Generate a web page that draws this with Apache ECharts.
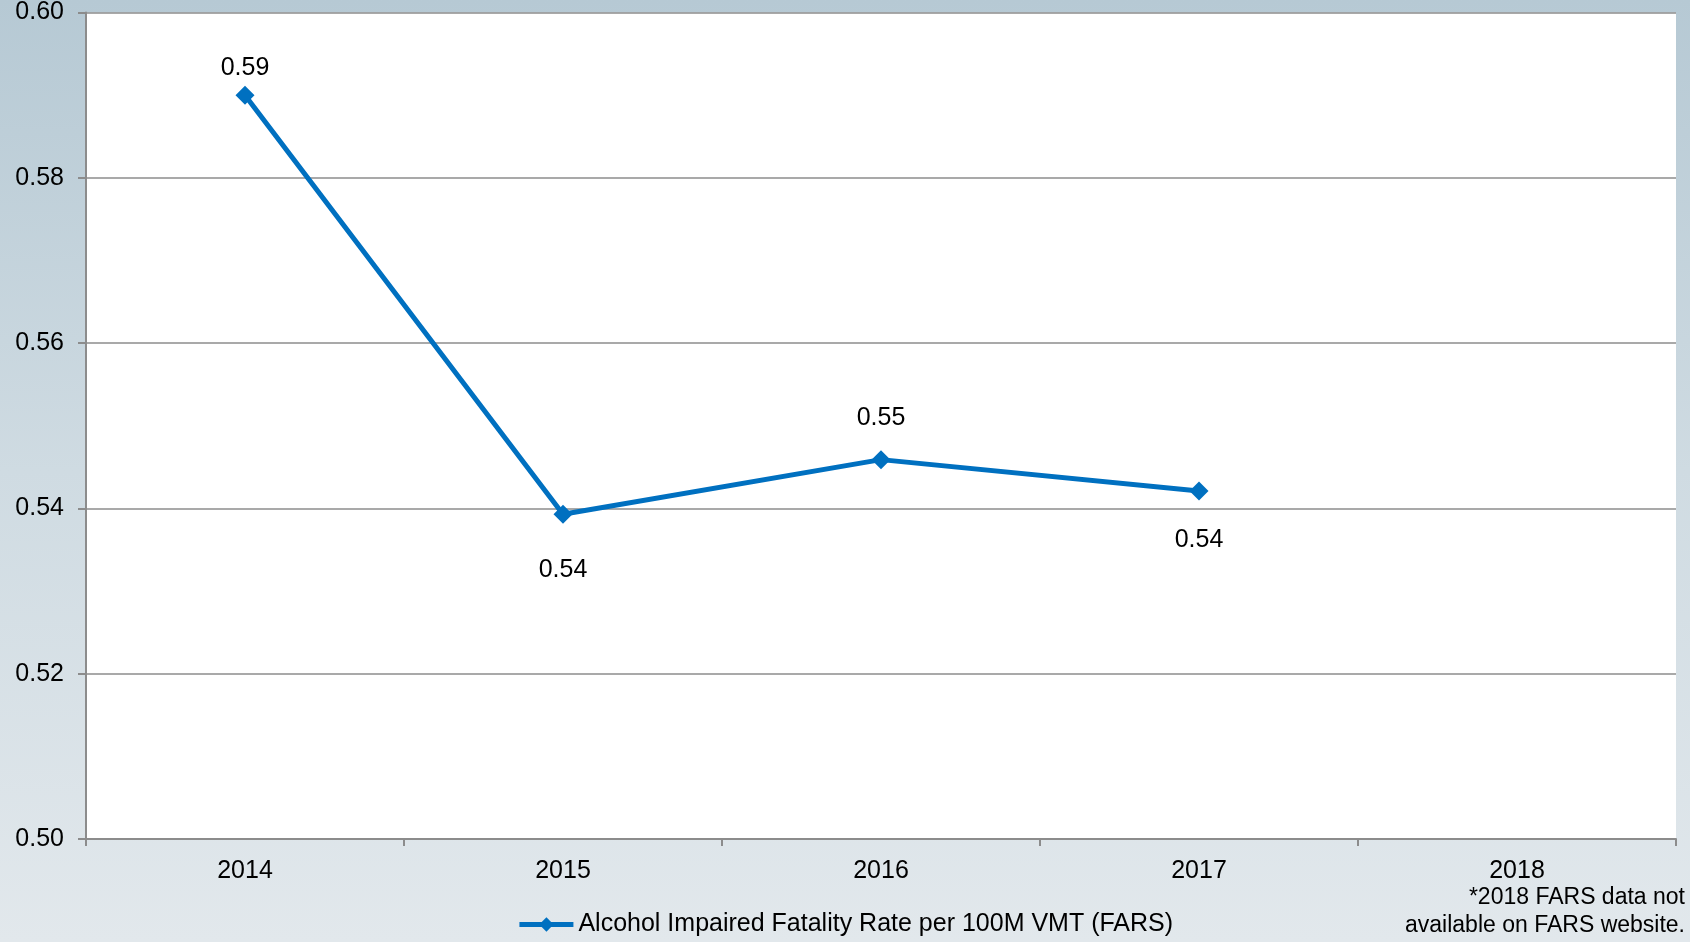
<!DOCTYPE html>
<html>
<head>
<meta charset="utf-8">
<style>
    html, body { margin: 0; padding: 0; }
    body { background: linear-gradient(to bottom, #b6c9d4 0%, #cfdbe2 50%, #e2e8ec 100%); }
    #chart { width: 1690px; height: 942px; }
</style>
<script src="https://cdn.jsdelivr.net/npm/echarts@6/dist/echarts.min.js"></script>
</head>
<body>
<div id="chart"></div>
<script>
    // 年份
    var _years = ['2014', '2015', '2016', '2017', '2018'];
    // 每亿英里酒驾死亡率 (2018 无数据)
    var _rate = [0.59, 0.5393, 0.5459, 0.5421, null];
    // 标签在点的上方还是下方, 以及距离
    var _labelPos = ['top', 'bottom', 'top', 'bottom', 'top'];
    var _labelDist = [5, 34, 20, 27, 0];
    var _yTicks = { min: 0.5, max: 0.6, interval: 0.02 };

    var chartDom = document.getElementById('chart');
    var myChart = echarts.init(chartDom);
    var fontFamily = '"Liberation Sans", Arial, sans-serif';

    var option = {
        backgroundColor: 'transparent',
        textStyle: { fontFamily: fontFamily },
        grid: {
            left: 86,
            right: 14,
            top: 11,
            bottom: 103,
            show: true,
            backgroundColor: '#ffffff',
            borderWidth: 0
        },
        xAxis: {
            type: 'category',
            data: _years,
            boundaryGap: true,
            axisLine: { lineStyle: { color: '#8c8c8c', width: 2 } },
            axisTick: { show: true, length: 7, lineStyle: { color: '#8c8c8c', width: 2 } },
            axisLabel: { color: '#000', fontSize: 25, margin: 20, fontFamily: fontFamily },
            splitLine: { show: false }
        },
        yAxis: {
            type: 'value',
            min: _yTicks.min,
            max: _yTicks.max,
            interval: _yTicks.interval,
            axisLine: { show: true, lineStyle: { color: '#8c8c8c', width: 2 } },
            axisTick: { show: true, length: 8, lineStyle: { color: '#8c8c8c', width: 2 } },
            axisLabel: {
                color: '#000', fontSize: 25, margin: 22, fontFamily: fontFamily,
                formatter: function(v) { return v.toFixed(2); }
            },
            splitLine: { show: true, lineStyle: { color: '#8c8c8c', width: 1.5 } }
        },
        legend: {
            bottom: 0,
            left: 'center',
            itemWidth: 54,
            itemHeight: 18,
            itemGap: 4,
            lineStyle: { width: 5 },
            textStyle: { color: '#000', fontSize: 25, fontFamily: fontFamily },
            data: ['Alcohol Impaired Fatality Rate per 100M VMT (FARS)']
        },
        graphic: [{
            type: 'text',
            right: 5,
            bottom: 2,
            style: {
                text: '*2018 FARS data not\navailable on FARS website.',
                fill: '#000',
                font: '23px ' + fontFamily,
                textAlign: 'right',
                lineHeight: 28
            }
        }],
        series: [{
            name: 'Alcohol Impaired Fatality Rate per 100M VMT (FARS)',
            type: 'line',
            symbol: 'diamond',
            symbolSize: 19,
            lineStyle: { color: '#0070c0', width: 5 },
            itemStyle: { color: '#0070c0' },
            label: {
                show: true,
                color: '#000',
                fontSize: 25,
                fontFamily: fontFamily,
                formatter: function(d) { return d.value.toFixed(2); }
            },
            data: _rate.map(function(v, i) {
                return {
                    value: v,
                    label: { position: _labelPos[i], distance: _labelDist[i] }
                };
            })
        }]
    };

    myChart.setOption(option);
    window.addEventListener('resize', function() {
        myChart.resize();
    });
</script>
</body>
</html>
